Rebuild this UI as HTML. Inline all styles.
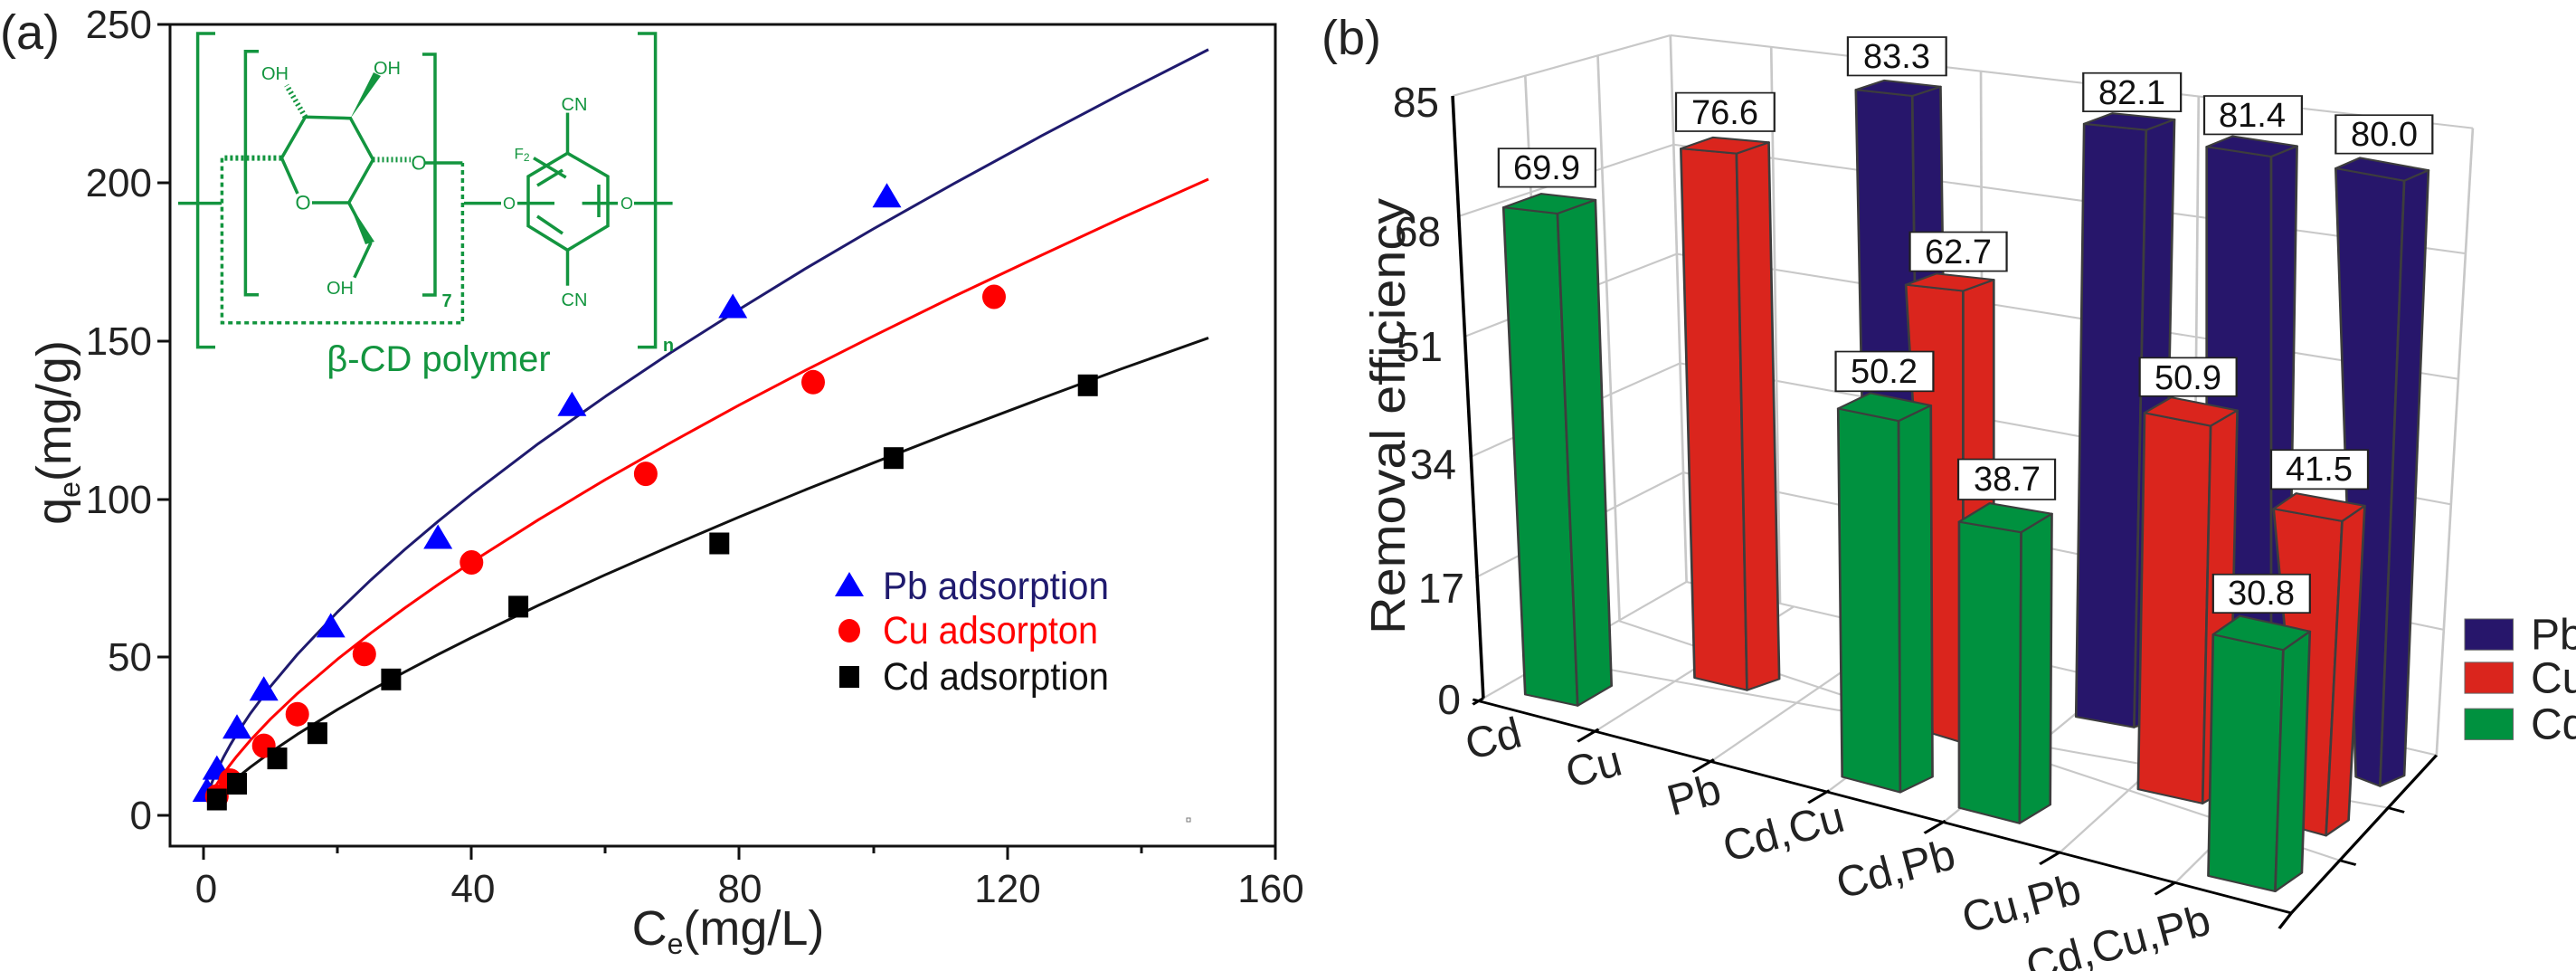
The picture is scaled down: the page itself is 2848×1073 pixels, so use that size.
<!DOCTYPE html>
<html><head><meta charset="utf-8"><style>
html,body{margin:0;padding:0;background:#fff}
svg{display:block}
text{font-family:"Liberation Sans",sans-serif}
</style></head><body>
<svg width="2848" height="1073" viewBox="0 0 2848 1073" xmlns="http://www.w3.org/2000/svg">
<rect width="2848" height="1073" fill="#fff"/>
<!-- ===== Panel (a) ===== -->
<text x="0" y="54" font-size="54" fill="#222">(a)</text>
<rect x="188" y="27" width="1222" height="908" fill="none" stroke="#111" stroke-width="3"/>
<g stroke="#111" stroke-width="3">
<line x1="225" y1="935" x2="225" y2="950"/><line x1="521" y1="935" x2="521" y2="950"/><line x1="817" y1="935" x2="817" y2="950"/><line x1="1114" y1="935" x2="1114" y2="950"/><line x1="1410" y1="935" x2="1410" y2="950"/>
<line x1="373" y1="935" x2="373" y2="943"/><line x1="669" y1="935" x2="669" y2="943"/><line x1="966" y1="935" x2="966" y2="943"/><line x1="1262" y1="935" x2="1262" y2="943"/>
<line x1="174" y1="901" x2="188" y2="901"/><line x1="174" y1="726" x2="188" y2="726"/><line x1="174" y1="552" x2="188" y2="552"/><line x1="174" y1="377" x2="188" y2="377"/><line x1="174" y1="202" x2="188" y2="202"/><line x1="174" y1="27" x2="188" y2="27"/>
</g>
<g font-size="44" fill="#222" text-anchor="end">
<text x="168" y="916">0</text><text x="168" y="741">50</text><text x="168" y="567">100</text><text x="168" y="392">150</text><text x="168" y="217">200</text><text x="168" y="42">250</text>
</g>
<g font-size="44" fill="#222" text-anchor="middle">
<text x="228" y="997">0</text><text x="523" y="997">40</text><text x="818" y="997">80</text><text x="1114" y="997">120</text><text x="1405" y="997">160</text>
</g>
<text x="805" y="1044" font-size="54" fill="#222" text-anchor="middle">C<tspan font-size="32" dy="10">e</tspan><tspan dy="-10">(mg/L)</tspan></text>
<text transform="translate(78,478) rotate(-90)" font-size="54" fill="#222" text-anchor="middle">q<tspan font-size="32" dy="10">e</tspan><tspan dy="-10">(mg/g)</tspan></text>

<!-- curves (data coords) -->
<g transform="matrix(7.407,0,0,-3.494,225,901)" fill="none" stroke-width="3" stroke-linejoin="round">
<polyline vector-effect="non-scaling-stroke" stroke="#1f1a6e" points="0.5,5.68 1,8.96 1.5,11.7 2,14.14 3,18.46 4,22.31 5,25.83 7,32.24 10,40.77 14,50.87 20,64.33 25,74.5 30,84 35,92.96 40,101.5 50,117.6 60,132.5 70,146.7 80,160.1 90,173.1 100,185.5 112,199.8 125,214.8 137,228.2 150,242.2"/>
<polyline vector-effect="non-scaling-stroke" stroke="#ff0000" points="1,6.12 1.5,8.12 2,9.92 3,13.16 4,16.08 5,18.79 7,23.76 10,30.46 14,38.51 20,49.38 25,57.69 30,65.5 35,72.94 40,80.06 50,93.5 60,106.2 70,118.2 80,129.8 90,140.9 100,151.6 112,164.1 125,177.1 137,188.9 150,201.2"/>
<polyline vector-effect="non-scaling-stroke" stroke="#111" points="1,3.56 1.5,4.82 2,5.98 3,8.1 4,10.04 5,11.87 7,15.26 10,19.93 14,25.63 20,33.47 25,39.55 30,45.32 35,50.87 40,56.21 50,66.43 60,76.11 70,85.4 80,94.4 90,103.1 100,111.5 112,121.4 125,131.8 137,141.2 150,151"/>
</g>
<!-- markers -->
<g fill="#0000ff">
<path d="M228.7,859l-16,27h32z"/><path d="M239.8,834.6l-16,27h32z"/><path d="M262,789.2l-16,27h32z"/><path d="M291.7,747.2l-16,27h32z"/><path d="M365.7,677.4l-16,27h32z"/><path d="M484.2,579.5l-16,27h32z"/><path d="M632.4,432.8l-16,27h32z"/><path d="M810.2,324.5l-16,27h32z"/><path d="M980.5,202.2l-16,27h32z"/>
</g>
<g fill="#ff0000">
<ellipse cx="239.8" cy="880" rx="13" ry="13.5"/><ellipse cx="254.6" cy="862.6" rx="13" ry="13.5"/><ellipse cx="291.7" cy="824.1" rx="13" ry="13.5"/><ellipse cx="328.7" cy="789.2" rx="13" ry="13.5"/><ellipse cx="402.8" cy="722.8" rx="13" ry="13.5"/><ellipse cx="521.3" cy="621.5" rx="13" ry="13.5"/><ellipse cx="713.9" cy="523.6" rx="13" ry="13.5"/><ellipse cx="899" cy="422.3" rx="13" ry="13.5"/><ellipse cx="1099" cy="328" rx="13" ry="13.5"/>
</g>
<g fill="#000">
<rect x="228.8" y="871.5" width="22" height="24"/><rect x="251" y="854" width="22" height="24"/><rect x="295.5" y="826.1" width="22" height="24"/><rect x="339.9" y="798.2" width="22" height="24"/><rect x="421.4" y="738.8" width="22" height="24"/><rect x="562.1" y="658.4" width="22" height="24"/><rect x="784.3" y="588.5" width="22" height="24"/><rect x="976.9" y="494.2" width="22" height="24"/><rect x="1191.7" y="413.8" width="22" height="24"/>
</g>
<rect x="1312" y="904" width="4" height="4" fill="none" stroke="#777" stroke-width="1"/>
<!-- legend a -->
<path d="M939,632l-16,27h32z" fill="#0000ff"/>
<ellipse cx="939" cy="697" rx="12" ry="13" fill="#ff0000"/>
<rect x="928" y="736" width="22" height="24" fill="#000"/>
<g font-size="43" dominant-baseline="central">
<text x="976" y="648" fill="#1f1a6e" textLength="250" lengthAdjust="spacingAndGlyphs">Pb adsorption</text>
<text x="976" y="697" fill="#ff0000" textLength="238" lengthAdjust="spacingAndGlyphs">Cu adsorpton</text>
<text x="976" y="748" fill="#111" textLength="250" lengthAdjust="spacingAndGlyphs">Cd adsorption</text>
</g>
<!-- structure -->
<g stroke="#13953f" stroke-width="3.5" fill="none">
<polyline points="238,37 218.6,37 218.6,383.6 238,383.6"/>
<polyline points="705,37 724.6,37 724.6,383.6 705,383.6"/>
<polyline points="286,56.8 271.4,56.8 271.4,325.7 286,325.7"/>
<polyline points="467,60 481,60 481,326 467,326"/>
<line x1="197" y1="224.6" x2="245" y2="224.6"/>
<line x1="513" y1="224.6" x2="554" y2="224.6"/>
<line x1="572" y1="224.6" x2="613" y2="224.6"/>
<line x1="643.6" y1="224.6" x2="683" y2="224.6"/>
<line x1="701" y1="224.6" x2="743.6" y2="224.6"/>
<polyline points="329,214 311.4,174.6 337.5,129.3 387.5,130.7 412.5,176.4 385.7,224 345,224"/>
<polyline points="385.7,224 409.6,269 391.8,306.8"/>
<line x1="470" y1="180" x2="511.4" y2="180"/>
<polyline stroke-dasharray="5,4" points="245.4,174.6 245.4,356.8 511.4,356.8 511.4,180"/>
<line x1="311.4" y1="174.6" x2="245.4" y2="174.6" stroke-dasharray="3,3" stroke-width="6"/>
<line x1="337.5" y1="129.3" x2="316.8" y2="94.3" stroke-dasharray="2,3" stroke-width="6"/>
<line x1="412.5" y1="176.4" x2="454" y2="176.4" stroke-dasharray="2,3" stroke-width="6"/>
<polygon points="627.5,169.3 672,195 672,249.6 627.5,276.4 584,249.6 584,195"/>
<line x1="594" y1="205" x2="622" y2="188"/><line x1="662" y1="204" x2="662" y2="240"/><line x1="594" y1="239" x2="622" y2="258"/>
<line x1="627.5" y1="169.3" x2="627.5" y2="124.6"/>
<line x1="627.5" y1="276.4" x2="627.5" y2="315.7"/>
<line x1="590" y1="174.6" x2="625.7" y2="196"/>
</g>
<g fill="#13953f">
<polygon points="387.5,130.7 413,80 421,84"/>
<polygon points="385.7,224 404,270 414,267"/>
</g>
<g fill="#13953f" font-size="20" text-anchor="middle" dominant-baseline="central">
<text x="304" y="82">OH</text><text x="428" y="76">OH</text><text x="376" y="319">OH</text>
<text x="463" y="180" font-size="22">O</text><text x="335" y="224" font-size="22">O</text>
<text x="563" y="225" font-size="18">O</text><text x="693" y="225" font-size="18">O</text>
<text x="635" y="116">CN</text><text x="635" y="332">CN</text>
<text x="577" y="170" font-size="17">F<tspan font-size="12" dy="4">2</tspan></text>
<text x="494" y="333" font-weight="bold">7</text>
<text x="739" y="382" font-weight="bold">n</text>
</g>
<text x="485" y="410" font-size="40" fill="#13953f" text-anchor="middle">β-CD polymer</text>

<!-- ===== Panel (b) ===== -->
<text x="1461" y="60" font-size="54" fill="#222">(b)</text>
<g transform="translate(1450,0) scale(0.8916,0.684)">
<g stroke="#c8c8c8" stroke-width="3" fill="none" vector-effect="non-scaling-stroke">
<line x1="175" y1="155" x2="445" y2="57"/>
<line x1="182" y1="349.6" x2="449" y2="233.6"/>
<line x1="189" y1="544.2" x2="453" y2="410.2"/>
<line x1="196" y1="738.8" x2="457" y2="586.8"/>
<line x1="203" y1="933.4" x2="461" y2="763.4"/>
<line x1="265" y1="122" x2="300" y2="1065"/>
<line x1="355" y1="90" x2="382" y2="1003"/>
<line x1="445" y1="57" x2="465" y2="940"/>
<line x1="445" y1="57" x2="1440" y2="207"/>
<line x1="449" y1="233.6" x2="1431" y2="409.6"/>
<line x1="453" y1="410.2" x2="1422" y2="612.2"/>
<line x1="457" y1="586.8" x2="1413" y2="814.8"/>
<line x1="461" y1="763.4" x2="1404" y2="1017.4"/>
<line x1="1440" y1="207" x2="1395" y2="1220"/>
<line x1="570" y1="76" x2="581" y2="975"/>
<line x1="830" y1="115" x2="833" y2="1050"/>
<line x1="1100" y1="156" x2="1093" y2="1125"/>
<line x1="465" y1="940" x2="1395" y2="1220"/>
<line x1="297" y1="1065" x2="1335" y2="1305"/>
<line x1="381" y1="1003" x2="1275" y2="1390"/>
<line x1="213" y1="1128" x2="465" y2="940"/>
<line x1="356" y1="1178" x2="598" y2="980"/>
<line x1="499" y1="1227" x2="731" y2="1020"/>
<line x1="642" y1="1277" x2="864" y2="1060"/>
<line x1="786" y1="1326" x2="997" y2="1100"/>
<line x1="929" y1="1376" x2="1129" y2="1140"/>
<line x1="1072" y1="1425" x2="1262" y2="1180"/>
</g>
<g stroke="#3d3d3d" stroke-width="3" vector-effect="non-scaling-stroke" stroke-linejoin="round">
<g fill="#27166b">
<polygon points="675,145 745,155 755,1160 690,1140"/><polygon points="745,155 780,140 790,1145 755,1160"/><polygon points="675,145 710,130 780,140 745,155"/>
<polygon points="958,200 1035,210 1020,1175 948,1158"/><polygon points="1035,210 1070,193 1055,1158 1020,1175"/><polygon points="958,200 993,183 1070,193 1035,210"/>
<polygon points="1110,237 1190,253 1190,1255 1110,1240"/><polygon points="1190,253 1222,236 1210,1238 1190,1255"/><polygon points="1110,237 1142,220 1222,236 1190,253"/>
<polygon points="1270,272 1355,292 1325,1270 1295,1255"/><polygon points="1355,292 1385,275 1355,1253 1325,1270"/><polygon points="1270,272 1300,255 1385,275 1355,292"/>
</g>
<g fill="#da251d">
<polygon points="458,240 527,248 540,1115 475,1095"/><polygon points="527,248 567,230 580,1097 540,1115"/><polygon points="458,240 498,222 567,230 527,248"/>
<polygon points="737,460 808,470 808,1200 770,1185"/><polygon points="808,470 846,452 846,1182 808,1200"/><polygon points="737,460 775,442 846,452 808,470"/>
<polygon points="1033,667 1115,688 1105,1298 1025,1275"/><polygon points="1115,688 1148,663 1138,1273 1105,1298"/><polygon points="1033,667 1066,642 1148,663 1115,688"/>
<polygon points="1193,822 1278,842 1258,1350 1230,1340"/><polygon points="1278,842 1306,817 1286,1325 1258,1350"/><polygon points="1193,822 1221,797 1306,817 1278,842"/>
</g>
<g fill="#00913f">
<polygon points="238,335 305,345 330,1140 265,1122"/><polygon points="305,345 352,323 372,1108 330,1140"/><polygon points="238,335 285,313 352,323 305,345"/>
<polygon points="653,660 728,680 730,1280 658,1255"/><polygon points="728,680 768,655 770,1255 730,1280"/><polygon points="653,660 693,635 768,655 728,680"/>
<polygon points="803,843 880,860 878,1330 803,1305"/><polygon points="880,860 918,830 916,1300 878,1330"/><polygon points="803,843 841,813 918,830 880,860"/>
<polygon points="1118,1025 1205,1050 1195,1440 1112,1415"/><polygon points="1205,1050 1238,1020 1228,1410 1195,1440"/><polygon points="1118,1025 1151,995 1238,1020 1205,1050"/>
</g>
</g>
<g stroke="#000" stroke-width="4" vector-effect="non-scaling-stroke" fill="none">
<line x1="175" y1="155" x2="213" y2="1128"/>
<line x1="200" y1="1130" x2="1215" y2="1475"/>
<line x1="1215" y1="1475" x2="1395" y2="1220"/>
<line x1="213" y1="1128" x2="200" y2="1138"/>
<line x1="356" y1="1178" x2="330" y2="1198"/>
<line x1="499" y1="1227" x2="473" y2="1247"/>
<line x1="642" y1="1277" x2="616" y2="1297"/>
<line x1="786" y1="1326" x2="760" y2="1346"/>
<line x1="929" y1="1376" x2="903" y2="1396"/>
<line x1="1072" y1="1425" x2="1046" y2="1445"/>
<line x1="1215" y1="1475" x2="1200" y2="1500"/>
<line x1="1275" y1="1390" x2="1295" y2="1397"/>
<line x1="1335" y1="1305" x2="1355" y2="1312"/>
</g>
<g fill="#fff" stroke="#222" stroke-width="2.5" vector-effect="non-scaling-stroke">
<rect x="232" y="240" width="120" height="62"/>
<rect x="452" y="150" width="122" height="62"/>
<rect x="665" y="60" width="122" height="62"/>
<rect x="742" y="375" width="120" height="63"/>
<rect x="650" y="568" width="121" height="64"/>
<rect x="802" y="742" width="120" height="65"/>
<rect x="957" y="118" width="121" height="62"/>
<rect x="1107" y="155" width="121" height="62"/>
<rect x="1270" y="186" width="120" height="62"/>
<rect x="1027" y="578" width="120" height="62"/>
<rect x="1190" y="727" width="120" height="63"/>
<rect x="1118" y="928" width="120" height="62"/>
</g>
<rect x="1430" y="1000" width="60" height="50" fill="#27166b" stroke="#666" stroke-width="1" vector-effect="non-scaling-stroke"/>
<rect x="1430" y="1070" width="60" height="50" fill="#da251d" stroke="#666" stroke-width="1" vector-effect="non-scaling-stroke"/>
<rect x="1430" y="1145" width="60" height="50" fill="#00913f" stroke="#666" stroke-width="1" vector-effect="non-scaling-stroke"/>
</g>
<g font-size="38" fill="#111" text-anchor="middle" dominant-baseline="central">
<text x="1710" y="186">69.9</text><text x="1907" y="125">76.6</text><text x="2097" y="63">83.3</text>
<text x="2165" y="279">62.7</text><text x="2083" y="411">50.2</text><text x="2219" y="530">38.7</text>
<text x="2357" y="103">82.1</text><text x="2490" y="128">81.4</text><text x="2636" y="149">80.0</text>
<text x="2419" y="418">50.9</text><text x="2564" y="519">41.5</text><text x="2500" y="656">30.8</text>
</g>
<g font-size="46" fill="#222" text-anchor="end" dominant-baseline="central">
<text x="1591" y="113">85</text><text x="1593" y="256">68</text><text x="1595" y="383">51</text>
<text x="1610" y="513">34</text><text x="1619" y="650">17</text><text x="1615" y="773">0</text>
</g>
<text transform="translate(1553,460) rotate(-90)" font-size="54" fill="#222" text-anchor="middle" textLength="482" lengthAdjust="spacingAndGlyphs">Removal efficiency</text>
<g font-size="48" fill="#222" text-anchor="middle" dominant-baseline="central">
<text transform="translate(1651,817) rotate(-15)">Cd</text>
<text transform="translate(1762,848) rotate(-15)">Cu</text>
<text transform="translate(1873,879) rotate(-15)">Pb</text>
<text transform="translate(1972,920) rotate(-15)">Cd,Cu</text>
<text transform="translate(2096,961) rotate(-15)">Cd,Pb</text>
<text transform="translate(2235,999) rotate(-15)">Cu,Pb</text>
<text transform="translate(2342,1043) rotate(-15)">Cd,Cu,Pb</text>
</g>
<g font-size="48" fill="#222" dominant-baseline="central">
<text x="2798" y="702">Pb</text><text x="2798" y="750">Cu</text><text x="2798" y="801">Cd</text>
</g>
</svg>
</body></html>
